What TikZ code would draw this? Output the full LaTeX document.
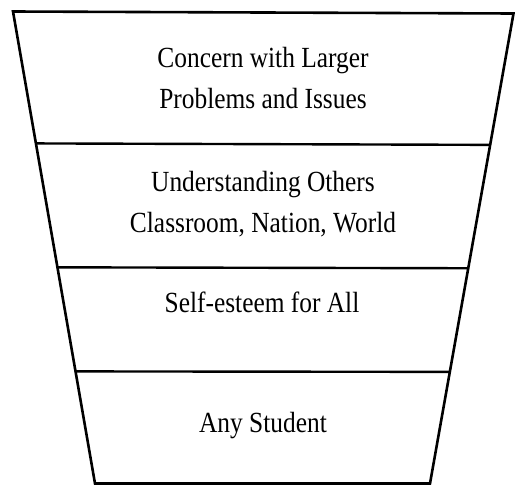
\documentclass[tikz,border=0pt]{standalone}
\usepackage{fontspec}
\setmainfont{Liberation Serif}
\usetikzlibrary{calc}
% slightly tall lettering
\newcommand{\tallline}[1]{\scalebox{1}[1.15]{#1}}
\begin{document}
\begin{tikzpicture}[x=1pt,y=-1pt,
  edge/.style={line width=2.6pt,line join=miter},
  divider/.style={line width=2.4pt},
  label/.style={anchor=base,align=center,inner sep=0pt,
    font=\fontsize{25.4}{40.5}\selectfont}]
  % canvas
  \fill[white] (0,0) rectangle (515,490);
  \useasboundingbox (0,0) rectangle (515,490);
  % funnel corners
  \coordinate (tl) at (13,11.5);
  \coordinate (tr) at (513.5,13.5);
  \coordinate (bl) at (95,483.5);
  \coordinate (br) at (430,483.5);
  % outline
  \draw[edge] (tl) -- (tr) -- (br) -- (bl) -- cycle;
  % layer dividers
  \foreach \t/\n in {0.2795/a,0.5420/b,0.7625/c}{
    \coordinate (l\n) at ($(tl)!\t!(bl)$);
    \coordinate (r\n) at ($(tr)!\t!(br)$);
    \draw[divider] (l\n) -- (r\n);
  }
  % layer texts (anchored on the baseline of the last line)
  \node[label] (layer4) at (263,108)
    {\tallline{Concern with Larger}\\\tallline{Problems and Issues}};
  \node[label] (layer3) at (263,232)
    {\tallline{Understanding Others}\\\tallline{Classroom, Nation, World}};
  \node[label] (layer2) at (262,312) {\tallline{Self-esteem for All}};
  \node[label] (layer1) at (263,432) {\tallline{Any Student}};
\end{tikzpicture}
\end{document}
